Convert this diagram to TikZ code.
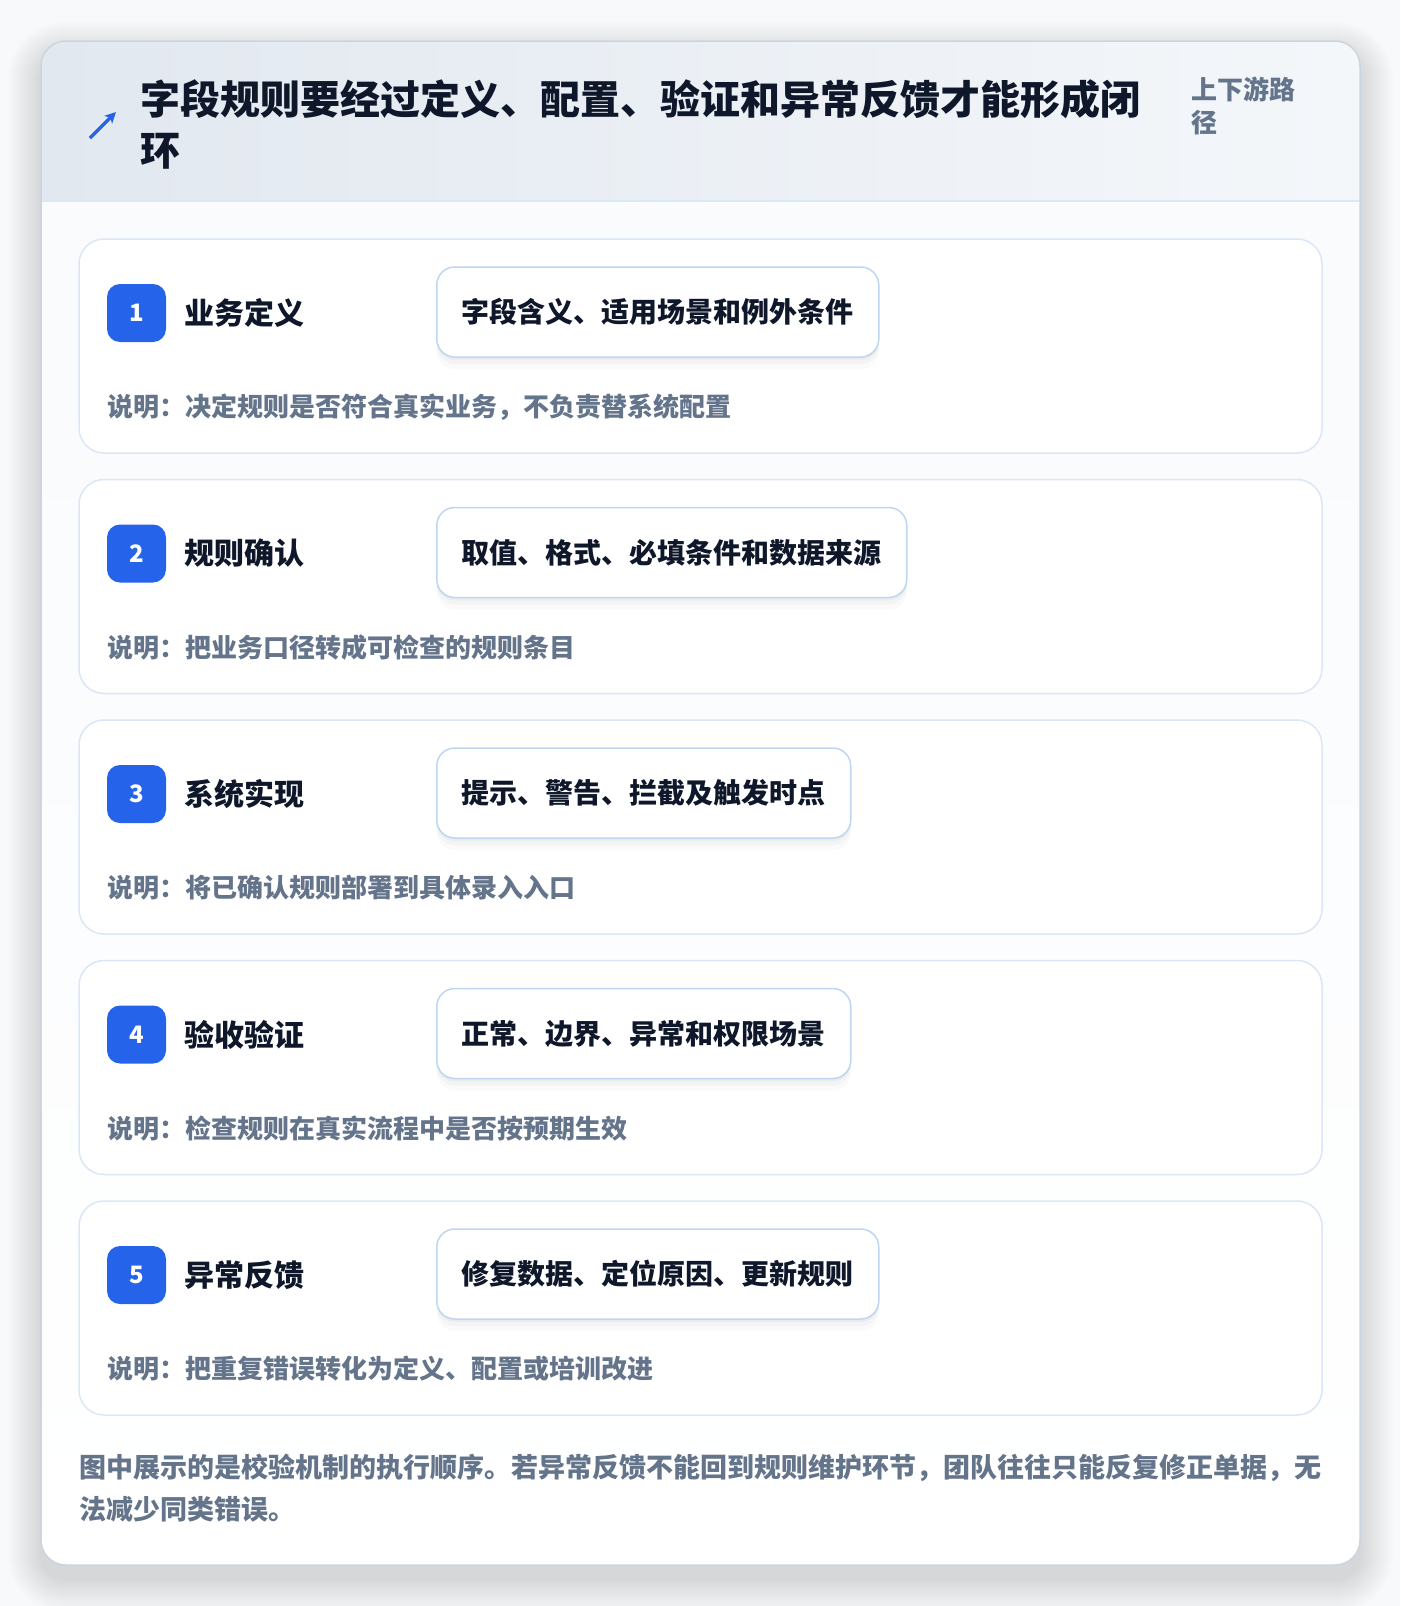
\documentclass[tikz,border=0pt]{standalone}
\usepackage{fontspec}
\newfontfamily\cjk{Noto Sans CJK SC}
\usetikzlibrary{arrows.meta}
\definecolor{ink}{HTML}{0F172A}
\definecolor{muted}{HTML}{64748B}
\definecolor{brand}{HTML}{2563EB}
\definecolor{pagebg}{HTML}{F8F9FB}
\definecolor{cardline}{HTML}{CBD5E1}
\definecolor{hdrA}{HTML}{E2E8F0}
\definecolor{hdrB}{HTML}{F4F7FA}
\definecolor{hdrline}{HTML}{DCE8F7}
\definecolor{stepline}{HTML}{DBE7F8}
\definecolor{pillline}{HTML}{BFD6F3}
\definecolor{bodyA}{HTML}{F8FAFC}
\tikzset{
  stepcard/.style={draw=stepline, line width=1.5pt, fill=white, rounded corners=25pt,
    minimum width=1243pt, minimum height=214pt, inner sep=0pt},
  badge/.style={fill=brand, rounded corners=13pt, minimum width=59pt, minimum height=58pt,
    inner sep=0pt, text=white, font=\cjk\bfseries\fontsize{24}{26}\selectfont},
  steplabel/.style={anchor=west, inner sep=0pt, text=ink, font=\cjk\bfseries\fontsize{30}{32}\selectfont},
  pill/.style={anchor=west, draw=pillline, line width=1.5pt, fill=white, rounded corners=18pt,
    minimum height=90pt, inner xsep=25pt, inner ysep=0pt, text=ink,
    font=\cjk\bfseries\fontsize{28}{30}\selectfont,
    preaction={fill=black, opacity=0.02, transform canvas={yshift=-12pt}},
    preaction={fill=black, opacity=0.025, transform canvas={yshift=-7pt}},
    preaction={fill=black, opacity=0.03, transform canvas={yshift=-3pt}}},
  desc/.style={anchor=west, inner sep=0pt, text=muted, font=\cjk\bfseries\fontsize{26}{28}\selectfont},
  foot/.style={anchor=west, inner sep=0pt, text=muted, font=\cjk\bfseries\fontsize{27}{29}\selectfont},
  titletext/.style={anchor=west, inner sep=0pt, text=ink, font=\cjk\bfseries\fontsize{40}{44}\selectfont},
  sidetext/.style={anchor=west, inner sep=0pt, text=muted, font=\cjk\bfseries\fontsize{26}{28}\selectfont},
}
\begin{document}
\begin{tikzpicture}[x=1pt,y=-1pt]
\useasboundingbox (0,0) rectangle (1400,1606);
\fill[pagebg] (0,0) rectangle (1400,1606);
% soft shadow of the card
\foreach \i in {1,...,34}{
  \fill[black, opacity=0.0024, rounded corners={(25+\i)*1pt}]
    (41-\i, 41-\i+14) rectangle (1360+\i, 1565+\i+14);
}
% card body
\shade[top color=bodyA, bottom color=white, rounded corners=25pt] (41,41) rectangle (1360,1565);
\begin{scope}
  \clip[rounded corners=25pt] (41,41) rectangle (1360,1565);
  \shade[left color=hdrA, right color=hdrB] (41,41) rectangle (1360,201);
\end{scope}
\draw[hdrline, line width=1.5pt] (41,201) -- (1360,201);
\draw[cardline, line width=1.5pt, rounded corners=25pt] (41,41) rectangle (1360,1565);

% header
\coordinate (arS) at (90,138);
\coordinate (arE) at (116,112);
\draw[brand, line width=3.5pt, -{Stealth[length=11pt,width=11pt,inset=3pt]}] (arS) -- (arE);
\node[titletext] (t1) at (140,99) {字段规则要经过定义、配置、验证和异常反馈才能形成闭};
\node[titletext] (t2) at (140,151) {环};
\node[sidetext] (r1) at (1191,89) {上下游路};
\node[sidetext] (r2) at (1191,123) {径};

% steps
\foreach \n/\lab/\pilltext/\desctext [count=\k from 0] in {
  1/{业务定义}/{字段含义、适用场景和例外条件}/{说明：决定规则是否符合真实业务，不负责替系统配置},
  2/{规则确认}/{取值、格式、必填条件和数据来源}/{说明：把业务口径转成可检查的规则条目},
  3/{系统实现}/{提示、警告、拦截及触发时点}/{说明：将已确认规则部署到具体录入入口},
  4/{验收验证}/{正常、边界、异常和权限场景}/{说明：检查规则在真实流程中是否按预期生效},
  5/{异常反馈}/{修复数据、定位原因、更新规则}/{说明：把重复错误转化为定义、配置或培训改进}}{
  \pgfmathsetmacro\tp{239+240.5*\k}
  \node[stepcard] (s\n) at (700.5, \tp+107) {};
  \node[badge] (b\n) at (136.5, \tp+74) {\n};
  \node[steplabel] (l\n) at (184, \tp+74) {\lab};
  \node[pill] (p\n) at (436, \tp+73) {\pilltext};
  \node[desc] (d\n) at (107, \tp+168) {\desctext};
}

% footer
\node[foot] (f1) at (79,1468) {图中展示的是校验机制的执行顺序。若异常反馈不能回到规则维护环节，团队往往只能反复修正单据，无};
\node[foot] (f2) at (79,1509) {法减少同类错误。};
\end{tikzpicture}
\end{document}
